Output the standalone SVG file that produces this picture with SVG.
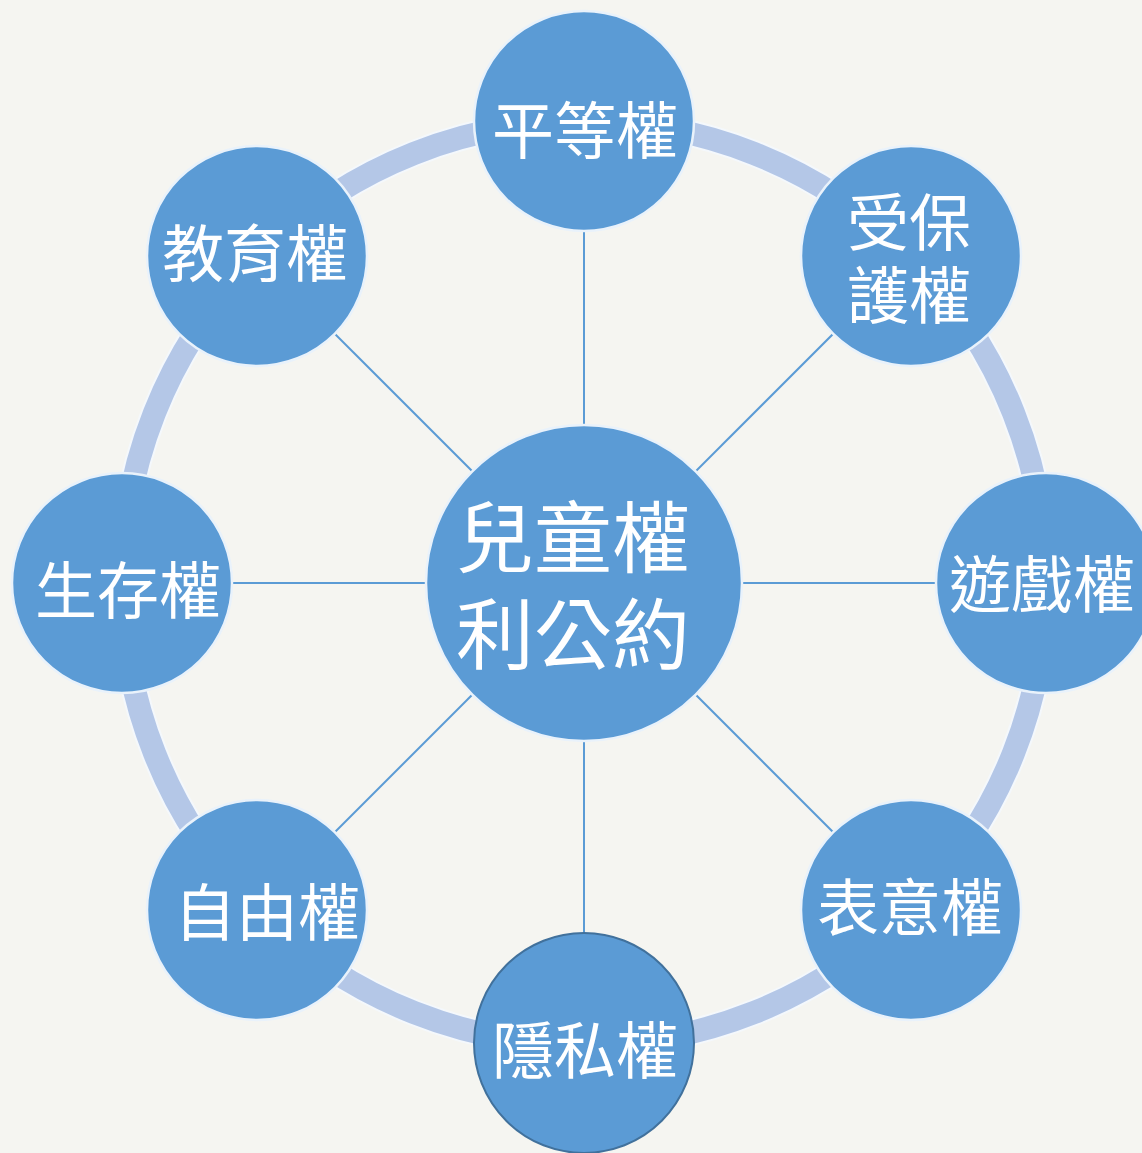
<svg xmlns="http://www.w3.org/2000/svg" width="1142" height="1153" viewBox="0 0 1142 1153">
<style>
.node{fill:#5b9bd5;stroke:#e9f2fb;stroke-width:2.5}
.lbl{font-family:"Noto Sans CJK TC","Noto Sans CJK SC",sans-serif;fill:#ffffff;text-anchor:middle;font-size:62px}
.big{font-size:78px}
.spoke{stroke:#5b9bd5;stroke-width:2;fill:none}
</style>
<rect x="0" y="0" width="1142" height="1153" fill="#f5f5f1"/>
<g id="ring">
<circle cx="584" cy="583" r="462" fill="none" stroke="#f4f8fc" stroke-width="27"/>
<circle cx="584" cy="583" r="462" fill="none" stroke="#b4c7e7" stroke-width="23"/>
</g>
<g id="connectors">
<line class="spoke" x1="584" y1="583" x2="584" y2="121"/>
<line class="spoke" x1="584" y1="583" x2="911" y2="256"/>
<line class="spoke" x1="584" y1="583" x2="1046" y2="583"/>
<line class="spoke" x1="584" y1="583" x2="911" y2="910"/>
<line class="spoke" x1="584" y1="583" x2="584" y2="1045"/>
<line class="spoke" x1="584" y1="583" x2="257" y2="910"/>
<line class="spoke" x1="584" y1="583" x2="122" y2="583"/>
<line class="spoke" x1="584" y1="583" x2="257" y2="256"/>
</g>
<g id="n-top"><circle class="node" cx="584" cy="121" r="110"/><text class="lbl" x="585" y="154">平等權</text></g>
<g id="n-protect"><circle class="node" cx="911" cy="256" r="110"/><text class="lbl"><tspan x="909" y="246">受保</tspan><tspan x="909" y="319">護權</tspan></text></g>
<g id="n-play"><circle class="node" cx="1046" cy="583" r="110"/><text class="lbl" x="1042" y="608">遊戲權</text></g>
<g id="n-express"><circle class="node" cx="911" cy="910" r="110"/><text class="lbl" x="910" y="931">表意權</text></g>
<g id="n-privacy"><circle cx="584" cy="1043" r="110" fill="#5b9bd5" stroke="#41719c" stroke-width="2"/><text class="lbl" x="585" y="1074">隱私權</text></g>
<g id="n-freedom"><circle class="node" cx="257" cy="910" r="110"/><text class="lbl" x="267" y="936">自由權</text></g>
<g id="n-survival"><circle class="node" cx="122" cy="583" r="110"/><text class="lbl" x="128" y="614">生存權</text></g>
<g id="n-education"><circle class="node" cx="257" cy="256" r="110"/><text class="lbl" x="255" y="277">教育權</text></g>
<g id="n-center"><circle class="node" cx="584" cy="583" r="158"/><text class="lbl big"><tspan x="573" y="567">兒童權</tspan><tspan x="573" y="664">利公約</tspan></text></g>
</svg>
